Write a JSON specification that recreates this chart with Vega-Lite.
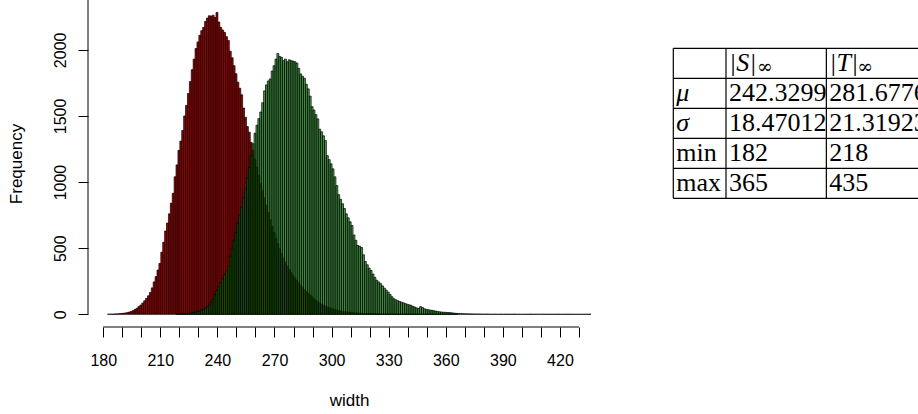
{
  "$schema": "https://vega.github.io/schema/vega-lite/v6.json",
  "width": 522,
  "height": 327,
  "autosize": {"type": "none"},
  "padding": {"left": 88, "top": 0, "right": 308, "bottom": 87},
  "background": "white",
  "config": {"view": {"stroke": null}, "font": "Liberation Sans"},
  "datasets": {
    "S": [
      {"v":182,"c":1},{"v":183,"c":1},{"v":184,"c":1},{"v":185,"c":2},{"v":186,"c":3},{"v":187,"c":3},{"v":188,"c":5},{"v":189,"c":6},{"v":190,"c":8},{"v":191,"c":10},
      {"v":192,"c":13},{"v":193,"c":17},{"v":194,"c":22},{"v":195,"c":28},{"v":196,"c":37},{"v":197,"c":46},{"v":198,"c":58},{"v":199,"c":70},{"v":200,"c":85},{"v":201,"c":102},
      {"v":202,"c":120},{"v":203,"c":140},{"v":204,"c":165},{"v":205,"c":200},{"v":206,"c":245},{"v":207,"c":285},{"v":208,"c":335},{"v":209,"c":385},{"v":210,"c":470},{"v":211,"c":545},
      {"v":212,"c":630},{"v":213,"c":690},{"v":214,"c":760},{"v":215,"c":840},{"v":216,"c":915},{"v":217,"c":1040},{"v":218,"c":1130},{"v":219,"c":1240},{"v":220,"c":1310},{"v":221,"c":1390},
      {"v":222,"c":1500},{"v":223,"c":1580},{"v":224,"c":1670},{"v":225,"c":1760},{"v":226,"c":1850},{"v":227,"c":1930},{"v":228,"c":2010},{"v":229,"c":2060},{"v":230,"c":2110},{"v":231,"c":2145},
      {"v":232,"c":2170},{"v":233,"c":2215},{"v":234,"c":2240},{"v":235,"c":2258},{"v":236,"c":2255},{"v":237,"c":2262},{"v":238,"c":2245},{"v":239,"c":2283},{"v":240,"c":2210},{"v":241,"c":2170},
      {"v":242,"c":2150},{"v":243,"c":2132},{"v":244,"c":2100},{"v":245,"c":2070},{"v":246,"c":1990},{"v":247,"c":1940},{"v":248,"c":1880},{"v":249,"c":1820},{"v":250,"c":1755},{"v":251,"c":1710},
      {"v":252,"c":1660},{"v":253,"c":1560},{"v":254,"c":1490},{"v":255,"c":1420},{"v":256,"c":1377},{"v":257,"c":1300},{"v":258,"c":1240},{"v":259,"c":1170},{"v":260,"c":1110},{"v":261,"c":1050},
      {"v":262,"c":990},{"v":263,"c":935},{"v":264,"c":880},{"v":265,"c":825},{"v":266,"c":770},{"v":267,"c":715},{"v":268,"c":665},{"v":269,"c":620},{"v":270,"c":575},{"v":271,"c":535},
      {"v":272,"c":495},{"v":273,"c":458},{"v":274,"c":425},{"v":275,"c":395},{"v":276,"c":365},{"v":277,"c":340},{"v":278,"c":315},{"v":279,"c":295},{"v":280,"c":275},{"v":281,"c":255},
      {"v":282,"c":238},{"v":283,"c":220},{"v":284,"c":203},{"v":285,"c":187},{"v":286,"c":172},{"v":287,"c":158},{"v":288,"c":145},{"v":289,"c":132},{"v":290,"c":118},{"v":291,"c":106},
      {"v":292,"c":96},{"v":293,"c":86},{"v":294,"c":78},{"v":295,"c":70},{"v":296,"c":63},{"v":297,"c":57},{"v":298,"c":51},{"v":299,"c":46},{"v":300,"c":41},{"v":301,"c":37},
      {"v":302,"c":33},{"v":303,"c":29},{"v":304,"c":26},{"v":305,"c":23},{"v":306,"c":21},{"v":307,"c":19},{"v":308,"c":17},{"v":309,"c":15},{"v":310,"c":13},{"v":311,"c":12},
      {"v":312,"c":11},{"v":313,"c":10},{"v":314,"c":9},{"v":315,"c":8},{"v":316,"c":7},{"v":317,"c":6},{"v":318,"c":6},{"v":319,"c":5},{"v":320,"c":5},{"v":321,"c":4},
      {"v":322,"c":4},{"v":323,"c":3},{"v":324,"c":3},{"v":325,"c":3},{"v":326,"c":2},{"v":327,"c":2},{"v":328,"c":2},{"v":329,"c":2},{"v":330,"c":1},{"v":331,"c":1},
      {"v":332,"c":1},{"v":333,"c":1},{"v":334,"c":1},{"v":335,"c":1},{"v":336,"c":1},{"v":337,"c":0},{"v":338,"c":1},{"v":339,"c":0},{"v":340,"c":1},{"v":341,"c":0},
      {"v":342,"c":0},{"v":343,"c":1},{"v":344,"c":0},{"v":345,"c":0},{"v":346,"c":1},{"v":347,"c":0},{"v":348,"c":0},{"v":349,"c":0},{"v":350,"c":1},{"v":351,"c":0},
      {"v":352,"c":0},{"v":353,"c":0},{"v":354,"c":0},{"v":355,"c":0},{"v":356,"c":0},{"v":357,"c":1},{"v":358,"c":0},{"v":359,"c":0},{"v":360,"c":0},{"v":361,"c":0},
      {"v":362,"c":0},{"v":363,"c":0},{"v":364,"c":0},{"v":365,"c":1}
    ],
    "T": [
      {"v":218,"c":1},{"v":219,"c":1},{"v":220,"c":2},{"v":221,"c":3},{"v":222,"c":4},{"v":223,"c":5},{"v":224,"c":7},{"v":225,"c":9},{"v":226,"c":11},{"v":227,"c":14},
      {"v":228,"c":17},{"v":229,"c":21},{"v":230,"c":26},{"v":231,"c":31},{"v":232,"c":38},{"v":233,"c":46},{"v":234,"c":56},{"v":235,"c":70},{"v":236,"c":90},{"v":237,"c":115},
      {"v":238,"c":150},{"v":239,"c":180},{"v":240,"c":210},{"v":241,"c":240},{"v":242,"c":270},{"v":243,"c":300},{"v":244,"c":330},{"v":245,"c":365},{"v":246,"c":440},{"v":247,"c":500},
      {"v":248,"c":560},{"v":249,"c":620},{"v":250,"c":690},{"v":251,"c":750},{"v":252,"c":810},{"v":253,"c":880},{"v":254,"c":950},{"v":255,"c":1030},{"v":256,"c":1110},{"v":257,"c":1200},
      {"v":258,"c":1290},{"v":259,"c":1370},{"v":260,"c":1430},{"v":261,"c":1480},{"v":262,"c":1530},{"v":263,"c":1600},{"v":264,"c":1690},{"v":265,"c":1735},{"v":266,"c":1765},{"v":267,"c":1780},
      {"v":268,"c":1840},{"v":269,"c":1880},{"v":270,"c":1930},{"v":271,"c":1972},{"v":272,"c":1950},{"v":273,"c":1943},{"v":274,"c":1918},{"v":275,"c":1930},{"v":276,"c":1910},{"v":277,"c":1925},
      {"v":278,"c":1918},{"v":279,"c":1915},{"v":280,"c":1910},{"v":281,"c":1900},{"v":282,"c":1860},{"v":283,"c":1818},{"v":284,"c":1800},{"v":285,"c":1785},{"v":286,"c":1740},{"v":287,"c":1705},
      {"v":288,"c":1650},{"v":289,"c":1570},{"v":290,"c":1545},{"v":291,"c":1510},{"v":292,"c":1478},{"v":293,"c":1400},{"v":294,"c":1380},{"v":295,"c":1350},{"v":296,"c":1314},{"v":297,"c":1200},
      {"v":298,"c":1170},{"v":299,"c":1138},{"v":300,"c":1100},{"v":301,"c":1040},{"v":302,"c":974},{"v":303,"c":905},{"v":304,"c":870},{"v":305,"c":836},{"v":306,"c":800},{"v":307,"c":760},
      {"v":308,"c":730},{"v":309,"c":700},{"v":310,"c":672},{"v":311,"c":600},{"v":312,"c":560},{"v":313,"c":521},{"v":314,"c":515},{"v":315,"c":505},{"v":316,"c":450},{"v":317,"c":400},
      {"v":318,"c":375},{"v":319,"c":350},{"v":320,"c":332},{"v":321,"c":305},{"v":322,"c":280},{"v":323,"c":258},{"v":324,"c":245},{"v":325,"c":232},{"v":326,"c":215},{"v":327,"c":198},
      {"v":328,"c":183},{"v":329,"c":168},{"v":330,"c":150},{"v":331,"c":133},{"v":332,"c":118},{"v":333,"c":110},{"v":334,"c":103},{"v":335,"c":97},{"v":336,"c":92},{"v":337,"c":87},
      {"v":338,"c":81},{"v":339,"c":76},{"v":340,"c":72},{"v":341,"c":68},{"v":342,"c":60},{"v":343,"c":55},{"v":344,"c":48},{"v":345,"c":44},{"v":346,"c":58},{"v":347,"c":52},
      {"v":348,"c":42},{"v":349,"c":38},{"v":350,"c":35},{"v":351,"c":32},{"v":352,"c":30},{"v":353,"c":27},{"v":354,"c":24},{"v":355,"c":21},{"v":356,"c":19},{"v":357,"c":17},
      {"v":358,"c":16},{"v":359,"c":15},{"v":360,"c":14},{"v":361,"c":13},{"v":362,"c":12},{"v":363,"c":10},{"v":364,"c":8},{"v":365,"c":7},{"v":366,"c":6},{"v":367,"c":5},
      {"v":368,"c":5},{"v":369,"c":4},{"v":370,"c":4},{"v":371,"c":3},{"v":372,"c":3},{"v":373,"c":3},{"v":374,"c":2},{"v":375,"c":2},{"v":376,"c":2},{"v":377,"c":2},
      {"v":378,"c":1},{"v":379,"c":1},{"v":380,"c":1},{"v":381,"c":1},{"v":382,"c":1},{"v":383,"c":0},{"v":384,"c":0},{"v":385,"c":1},{"v":386,"c":0},{"v":387,"c":0},
      {"v":388,"c":1},{"v":389,"c":0},{"v":390,"c":0},{"v":391,"c":1},{"v":392,"c":0},{"v":393,"c":0},{"v":394,"c":0},{"v":395,"c":1},{"v":396,"c":0},{"v":397,"c":0},
      {"v":398,"c":0},{"v":399,"c":0},{"v":400,"c":0},{"v":401,"c":0},{"v":402,"c":0},{"v":403,"c":0},{"v":404,"c":1},{"v":405,"c":0},{"v":406,"c":0},{"v":407,"c":0},
      {"v":408,"c":0},{"v":409,"c":0},{"v":410,"c":1},{"v":411,"c":0},{"v":412,"c":0},{"v":413,"c":0},{"v":414,"c":0},{"v":415,"c":0},{"v":416,"c":0},{"v":417,"c":0},
      {"v":418,"c":1},{"v":419,"c":0},{"v":420,"c":0},{"v":421,"c":0},{"v":422,"c":0},{"v":423,"c":0},{"v":424,"c":0},{"v":425,"c":0},{"v":426,"c":0},{"v":427,"c":0},
      {"v":428,"c":0},{"v":429,"c":0},{"v":430,"c":0},{"v":431,"c":0},{"v":432,"c":0},{"v":433,"c":0},{"v":434,"c":0},{"v":435,"c":1}
    ],
    "cells": [
      {"r":0,"k":1,"t":"|S|","f":"i"},
      {"r":0,"k":2,"t":"|T|","f":"i"},
      {"r":1,"k":0,"t":"μ","f":"i"},
      {"r":2,"k":0,"t":"σ","f":"i"},
      {"r":1,"k":1,"t":"242.3299","f":"n"},
      {"r":1,"k":2,"t":"281.6776","f":"n"},
      {"r":2,"k":1,"t":"18.47012","f":"n"},
      {"r":2,"k":2,"t":"21.31923","f":"n"},
      {"r":3,"k":0,"t":"min","f":"n"},
      {"r":3,"k":1,"t":"182","f":"n"},
      {"r":3,"k":2,"t":"218","f":"n"},
      {"r":4,"k":0,"t":"max","f":"n"},
      {"r":4,"k":1,"t":"365","f":"n"},
      {"r":4,"k":2,"t":"435","f":"n"}
    ],
    "sub": [{"r":0,"k":1,"t":"∞"},{"r":0,"k":2,"t":"∞"}],
    "vlines": [{"k":0},{"k":1},{"k":2},{"k":3}],
    "hlines": [{"r":0},{"r":1},{"r":2},{"r":3},{"r":4},{"r":5}]
  },
  "layer": [
    {
      "layer": [
        {
          "data": {"name": "S"},
          "mark": {"type": "bar", "fill": "#a00000", "stroke": "#000000", "strokeWidth": 0.7, "binSpacing": 0},
          "encoding": {
            "x": {
              "field": "v", "type": "quantitative", "bin": {"binned": true, "step": 1},
              "scale": {"domain": [172, 446.3], "nice": false, "zero": false},
              "axis": {
                "values": [180,190,200,210,220,230,240,250,260,270,280,290,300,310,320,330,340,350,360,370,380,390,400,410,420,430],
                "labelExpr": "datum.value % 30 === 0 ? datum.label : ''",
                "format": "d", "domain": false, "grid": false,
                "tickSize": 10, "tickColor": "#000000", "tickWidth": 1,
                "labelFontSize": 16, "labelFont": "Liberation Sans", "labelColor": "#000000",
                "labelPadding": 15, "labelFlush": false, "labelOverlap": false,
                "title": "width", "titleFontSize": 17, "titleFont": "Liberation Sans", "titleFontWeight": "normal",
                "titleColor": "#000000", "titlePadding": 24
              }
            },
            "y": {
              "field": "c", "type": "quantitative",
              "scale": {"domain": [-96, 2377], "nice": false, "zero": false},
              "axis": {
                "values": [0, 500, 1000, 1500, 2000],
                "format": "d", "domain": false, "grid": false,
                "tickSize": 10, "tickColor": "#000000", "tickWidth": 1,
                "labelAngle": -90, "labelAlign": "center", "labelBaseline": "bottom",
                "labelFontSize": 16, "labelFont": "Liberation Sans", "labelColor": "#000000",
                "labelPadding": 10, "labelFlush": false, "labelOverlap": false,
                "title": "Frequency", "titleFontSize": 17, "titleFont": "Liberation Sans", "titleFontWeight": "normal",
                "titleColor": "#000000", "titlePadding": 27
              }
            },
            "y2": {"datum": 0}
          }
        },
        {
          "data": {"name": "T"},
          "mark": {"type": "bar", "fill": "#007000", "fillOpacity": 0.7, "stroke": "#000000", "strokeWidth": 0.7, "binSpacing": 0},
          "encoding": {
            "x": {"field": "v", "type": "quantitative", "bin": {"binned": true, "step": 1}, "title": "width"},
            "y": {"field": "c", "type": "quantitative", "title": "Frequency"},
            "y2": {"datum": 0}
          }
        },
        {
          "data": {"values": [{}]},
          "mark": {"type": "rule", "color": "#000000", "strokeWidth": 1},
          "encoding": {"x": {"datum": 180}, "x2": {"datum": 430}, "y": {"datum": -96}}
        },
        {
          "data": {"values": [{}]},
          "mark": {"type": "rule", "color": "#000000", "strokeWidth": 1},
          "encoding": {"x": {"datum": 172}, "y": {"datum": 0}, "y2": {"datum": 2377}}
        }
      ]
    },
    {
      "layer": [
        {
          "data": {"name": "vlines"},
          "mark": {"type": "rule", "color": "#000000", "strokeWidth": 1.2},
          "encoding": {
            "x": {"field": "k", "type": "quantitative", "axis": null,
                  "scale": {"domain": [0, 1, 3], "range": [585.3, 638, 838.7], "nice": false, "zero": false}},
            "y": {"datum": 0, "type": "quantitative", "axis": null,
                  "scale": {"domain": [0, 5], "range": [48.3, 198.3], "nice": false, "zero": false}},
            "y2": {"datum": 5}
          }
        },
        {
          "data": {"name": "hlines"},
          "mark": {"type": "rule", "color": "#000000", "strokeWidth": 1.2},
          "encoding": {
            "x": {"datum": 0, "type": "quantitative", "axis": null},
            "x2": {"datum": 3},
            "y": {"field": "r", "type": "quantitative", "axis": null}
          }
        },
        {
          "data": {"name": "cells"},
          "transform": [{"filter": "datum.f === 'n'"}],
          "mark": {"type": "text", "align": "left", "baseline": "alphabetic", "dx": 3, "dy": 23, "fontSize": 26, "font": "Liberation Serif", "color": "#000000"},
          "encoding": {
            "x": {"field": "k", "type": "quantitative", "axis": null},
            "y": {"field": "r", "type": "quantitative", "axis": null},
            "text": {"field": "t"}
          }
        },
        {
          "data": {"name": "cells"},
          "transform": [{"filter": "datum.f === 'i'"}],
          "mark": {"type": "text", "align": "left", "baseline": "alphabetic", "dx": 3, "dy": 23, "fontSize": 26, "font": "Liberation Serif", "fontStyle": "italic", "color": "#000000"},
          "encoding": {
            "x": {"field": "k", "type": "quantitative", "axis": null},
            "y": {"field": "r", "type": "quantitative", "axis": null},
            "text": {"field": "t"}
          }
        },
        {
          "data": {"name": "sub"},
          "mark": {"type": "text", "align": "left", "baseline": "alphabetic", "dx": 31, "dy": 25, "fontSize": 19, "font": "DejaVu Serif", "color": "#000000"},
          "encoding": {
            "x": {"field": "k", "type": "quantitative", "axis": null},
            "y": {"field": "r", "type": "quantitative", "axis": null},
            "text": {"field": "t"}
          }
        }
      ]
    }
  ],
  "resolve": {"scale": {"x": "independent", "y": "independent"}}
}
